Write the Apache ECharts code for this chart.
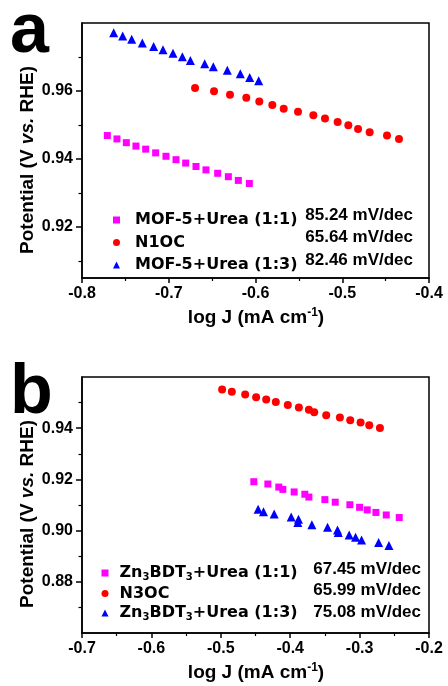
<!DOCTYPE html>
<html><head><meta charset="utf-8">
<script src="https://cdn.jsdelivr.net/npm/echarts@6/dist/echarts.min.js"></script>
<style>html,body{margin:0;padding:0;background:#fff}#c{width:448px;height:686px}</style>
</head><body><div id="c"></div>
<script>
// ---------- Panel a data ----------
const aNames = ['MOF-5+Urea (1:1)', 'N1OC', 'MOF-5+Urea (1:3)'];
const aSlopes = ['85.24 mV/dec', '65.64 mV/dec', '82.46 mV/dec'];
const aSqX = [-0.7708,-0.7597,-0.7489,-0.7378,-0.7266,-0.7151,-0.7032,-0.6916,-0.6805,-0.6686,-0.6571,-0.6436,-0.6313,-0.6198,-0.6071];
const aSqY = [0.9469,0.9459,0.9448,0.9438,0.9429,0.9418,0.9408,0.9398,0.9388,0.9378,0.9368,0.9358,0.9348,0.9337,0.9328];
const aCiX = [-0.6697,-0.6478,-0.6294,-0.6106,-0.5956,-0.5806,-0.5675,-0.5510,-0.5333,-0.5199,-0.5053,-0.4930,-0.4818,-0.4684,-0.4484,-0.4346];
const aCiY = [0.9609,0.9599,0.9589,0.9580,0.9569,0.9559,0.9548,0.9539,0.9529,0.9519,0.9509,0.9499,0.9488,0.9479,0.9469,0.9459];
const aTrX = [-0.7635,-0.7531,-0.7427,-0.7305,-0.7174,-0.7066,-0.6951,-0.6843,-0.6751,-0.6586,-0.6486,-0.6325,-0.6175,-0.6067,-0.5963];
const aTrY = [0.9771,0.9762,0.9752,0.9741,0.9731,0.9721,0.9711,0.9701,0.9690,0.9680,0.9671,0.9661,0.9651,0.9640,0.9630];
const aYLabels = [0.92, 0.94, 0.96];
const aYMinor = [0.91, 0.93, 0.95, 0.97];

// ---------- Panel b data ----------
const bNames = ['Zn3BDT3+Urea (1:1)', 'N3OC', 'Zn3BDT3+Urea (1:3)'];
const bSlopes = ['67.45 mV/dec', '65.99 mV/dec', '75.08 mV/dec'];
const bSqX = [-0.4524,-0.4322,-0.4164,-0.4106,-0.3943,-0.3789,-0.3731,-0.3500,-0.3351,-0.3140,-0.3000,-0.2890,-0.2765,-0.2616,-0.2429];
const bSqY = [0.9191,0.9182,0.9170,0.9161,0.9151,0.9142,0.9131,0.9121,0.9111,0.9101,0.9091,0.9081,0.9071,0.9061,0.9051];
const bCiX = [-0.4981,-0.4841,-0.4649,-0.4491,-0.4346,-0.4207,-0.4034,-0.3875,-0.3731,-0.3654,-0.3481,-0.3284,-0.3135,-0.2986,-0.2861,-0.2707];
const bCiY = [0.9551,0.9542,0.9532,0.9521,0.9512,0.9502,0.9491,0.9481,0.9472,0.9462,0.9451,0.9442,0.9431,0.9422,0.9412,0.9401];
const bTrX = [-0.4462,-0.4385,-0.4231,-0.3986,-0.3880,-0.3890,-0.3688,-0.3462,-0.3318,-0.3308,-0.3150,-0.3058,-0.2972,-0.2726,-0.2577];
const bTrY = [0.9083,0.9074,0.9065,0.9053,0.9044,0.9032,0.9023,0.9013,0.9002,0.8993,0.8983,0.8974,0.8963,0.8954,0.8942];
const bYLabels = [0.88, 0.90, 0.92, 0.94];
const bYMinor = [0.87, 0.89, 0.91, 0.93, 0.95];

const colors = ['#ff00ff', '#ff0000', '#0000ff'];
const symbols = ['rect', 'circle', 'triangle'];
const symSizes = [7, 8, 9];

const pairs = (xs, ys) => xs.map((x, i) => [x, ys[i]]);
const AR = 'Liberation Sans, Arial, sans-serif';
const DV = 'DejaVu Sans, sans-serif';
const black = '#000';

function xAxisCfg(grid, min, max) {
  return {
    type: 'value', gridIndex: grid, min: min, max: max, interval: 0.1,
    axisLine: { show: true, onZero: false, lineStyle: { color: black, width: 1.5 } },
    axisTick: { show: true, length: 5, lineStyle: { color: black, width: 1.5 } },
    minorTick: { show: true, splitNumber: 2, length: 3, lineStyle: { color: black, width: 1.2 } },
    axisLabel: { color: black, fontFamily: AR, fontWeight: 'bold', fontSize: 16, margin: 8,
      formatter: v => v.toFixed(1) },
    splitLine: { show: false }, minorSplitLine: { show: false }
  };
}
function yMajor(grid, min, max, labels) {
  return {
    type: 'value', gridIndex: grid, min: min, max: max, position: 'left',
    axisLine: { show: true, onZero: false, lineStyle: { color: black, width: 1.5 } },
    axisTick: { show: true, customValues: labels, length: 6, lineStyle: { color: black, width: 1.5 } },
    axisLabel: { customValues: labels, color: black, fontFamily: AR, fontWeight: 'bold', fontSize: 16, margin: 9,
      formatter: v => v.toFixed(2) },
    splitLine: { show: false }
  };
}
function yMinor(grid, min, max, vals) {
  return {
    type: 'value', gridIndex: grid, min: min, max: max, position: 'left', offset: 0,
    axisLine: { show: false },
    axisTick: { show: true, customValues: vals, length: 3.5, lineStyle: { color: black, width: 1.2 } },
    axisLabel: { show: false },
    splitLine: { show: false }
  };
}

const aSets = [pairs(aSqX, aSqY), pairs(aCiX, aCiY), pairs(aTrX, aTrY)];
const bSets = [pairs(bSqX, bSqY), pairs(bCiX, bCiY), pairs(bTrX, bTrY)];

const series = [];
aNames.forEach((n, i) => series.push({
  type: 'scatter', name: n, xAxisIndex: 0, yAxisIndex: 0, data: aSets[i],
  symbol: symbols[i], symbolSize: symSizes[i], itemStyle: { color: colors[i], opacity: 1 }
}));
bNames.forEach((n, i) => series.push({
  type: 'scatter', name: n, xAxisIndex: 1, yAxisIndex: 2, data: bSets[i],
  symbol: symbols[i], symbolSize: symSizes[i], itemStyle: { color: colors[i], opacity: 1 }
}));

const subName = n => n.replace(/^Zn3BDT3(.*)$/, '{n|Zn}{s|3}{n|BDT}{s|3}{n|$1}').replace(/^(N3OC)$/, '{n|$1}');

const titleRich = {
  a: { fontFamily: AR, fontWeight: 'bold', fontSize: 19, fill: black, lineHeight: 22 },
  i: { fontFamily: AR, fontWeight: 'bold', fontStyle: 'italic', fontSize: 19, fill: black, lineHeight: 22 },
  s: { fontFamily: AR, fontWeight: 'bold', fontSize: 12, fill: black, lineHeight: 10, verticalAlign: 'top' }
};

const graphic = [
  { type: 'text', x: 10, y: 33, style: { text: 'a', font: 'bold 70px ' + AR, fill: black, textAlign: 'left', textVerticalAlign: 'middle' } },
  { type: 'text', x: 10, y: 394, style: { text: 'b', font: 'bold 70px ' + AR, fill: black, textAlign: 'left', textVerticalAlign: 'middle' } },
  { type: 'text', x: 28, y: 160, rotation: Math.PI / 2,
    style: { text: '{a|Potential (V }{i|vs.}{a| RHE)}', rich: titleRich, textAlign: 'center', textVerticalAlign: 'middle' } },
  { type: 'text', x: 28, y: 514, rotation: Math.PI / 2,
    style: { text: '{a|Potential (V }{i|vs.}{a| RHE)}', rich: titleRich, textAlign: 'center', textVerticalAlign: 'middle' } },
  { type: 'text', x: 256, y: 318,
    style: { text: '{a|log J (mA cm}{s|-1}{a|)}', rich: titleRich, textAlign: 'center', textVerticalAlign: 'middle' } },
  { type: 'text', x: 256, y: 673,
    style: { text: '{a|log J (mA cm}{s|-1}{a|)}', rich: titleRich, textAlign: 'center', textVerticalAlign: 'middle' } }
];
aSlopes.forEach((s, i) => graphic.push({ type: 'text', x: 413, y: 215 + i * 22.5,
  style: { text: s, font: 'bold 17px ' + AR, fill: black, textAlign: 'right', textVerticalAlign: 'middle' } }));
bSlopes.forEach((s, i) => graphic.push({ type: 'text', x: 421, y: 569 + i * 21.5,
  style: { text: s, font: 'bold 17px ' + AR, fill: black, textAlign: 'right', textVerticalAlign: 'middle' } }));

const option = {
  animation: false,
  backgroundColor: '#fff',
  grid: [
    { left: 82, top: 23, width: 347, height: 255, show: true, borderColor: black, borderWidth: 1.5 },
    { left: 82, top: 377, width: 347, height: 256, show: true, borderColor: black, borderWidth: 1.5 }
  ],
  xAxis: [xAxisCfg(0, -0.8, -0.4), xAxisCfg(1, -0.7, -0.2)],
  yAxis: [
    yMajor(0, 0.905, 0.98, aYLabels), yMinor(0, 0.905, 0.98, aYMinor),
    yMajor(1, 0.86, 0.96, bYLabels), yMinor(1, 0.86, 0.96, bYMinor)
  ],
  legend: [
    { orient: 'vertical', left: 108, top: 207, itemGap: 6.5, itemWidth: 7, itemHeight: 7,
      data: aNames.map((n, i) => ({ name: n, icon: symbols[i] })),
      formatter: n => '{n|' + n + '}',
      textStyle: { rich: { n: { fontFamily: DV, fontWeight: 'bold', fontSize: 16, color: black, lineHeight: 16, padding: [0, 0, 0, 10] } } } },
    { orient: 'vertical', left: 96.5, top: 560, itemGap: 3.5, itemWidth: 7, itemHeight: 7,
      data: bNames.map((n, i) => ({ name: n, icon: symbols[i] })),
      formatter: n => '{p|}' + subName(n),
      textStyle: { rich: {
        p: { width: 6, lineHeight: 18 },
        n: { fontFamily: DV, fontWeight: 'bold', fontSize: 16, color: black, lineHeight: 18 },
        s: { fontFamily: DV, fontWeight: 'bold', fontSize: 10, color: black, lineHeight: 8, verticalAlign: 'bottom' }
      } } }
  ],
  graphic: graphic,
  series: series
};
const chart = echarts.init(document.getElementById('c'), null, { renderer: 'canvas' });
chart.setOption(option);
</script>
</body></html>
